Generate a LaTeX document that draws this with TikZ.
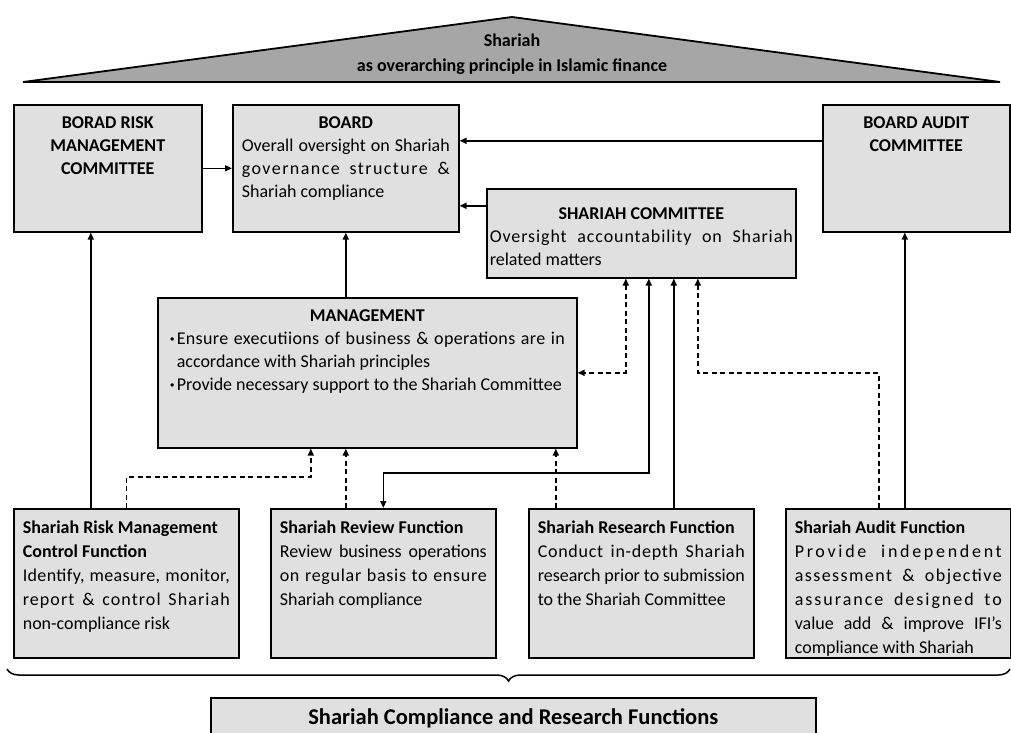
\documentclass[tikz,border=0pt]{standalone}
\usepackage{fontspec}
\setmainfont{Carlito}
\usetikzlibrary{arrows.meta,decorations.pathreplacing}
\definecolor{boxgray}{HTML}{E0E0E0}
\definecolor{roofgray}{HTML}{A6A6A6}
\newcommand{\unitbody}[3]{\parbox[c][#2][t]{#1}{\strut#3}}
\newcommand{\fl}[1]{\hbox to\linewidth{#1}}
\newcommand{\sfl}[2]{\hbox to\linewidth{\addfontfeature{LetterSpace=#1}#2}}
\newcommand{\bul}{\makebox[7pt][l]{\textbf{·}}}
\begin{document}
\begin{tikzpicture}[x=1pt, y=-1pt, >={Triangle[length=7pt, width=6pt]},
        unit/.style = {draw, line width=1.6pt, fill=boxgray, anchor=north west, inner xsep=9pt, inner ysep=8pt, font=\fontsize{18}{23}\selectfont},
        func/.style = {unit, font=\fontsize{18}{24}\selectfont},
        link/.style = {line width=1.5pt, ->},
        both/.style = {line width=1.5pt, <->},
        dlink/.style = {link, dash pattern=on 5pt off 3.5pt},
        dboth/.style = {both, dash pattern=on 5pt off 3.5pt}]
        \useasboundingbox (0,0) rectangle (1011,732);

        \coordinate (roof-l) at (23,82);
        \coordinate (roof-t) at (512,17);
        \coordinate (roof-r) at (1000,82);
        \draw[line width=1.8pt, fill=roofgray] (roof-l) -- (roof-t) -- (roof-r) -- cycle;
        \node[font=\fontsize{18}{25}\selectfont\bfseries, align=center] (roof) at (512,54) {Shariah\\as overarching principle in Islamic finance};

        \node[unit] (brmc) at (13,104) {\unitbody{170pt}{111pt}{{\centering\bfseries BORAD RISK\\MANAGEMENT\\COMMITTEE\par}}};
        \node[unit] (board) at (232,104) {\unitbody{208pt}{111pt}{{\centering\bfseries BOARD\par}\fl{Overall oversight on Shariah}\sfl{8}{governance structure \&}Shariah compliance}};
        \node[unit] (bac) at (822,104) {\unitbody{169pt}{111pt}{{\centering\bfseries BOARD AUDIT\\COMMITTEE\par}}};
        \node[unit, inner xsep=3pt, inner ysep=15pt] (sc) at (486,188) {\unitbody{303pt}{59pt}{{\centering\bfseries SHARIAH COMMITTEE\par}\sfl{5}{Oversight accountability on Shariah}related matters}};
        \node[unit, inner xsep=12pt] (mgmt) at (157,297) {\unitbody{395pt}{134pt}{{\centering\bfseries MANAGEMENT\par}\hbox to\linewidth{\bul\addfontfeature{LetterSpace=2}Ensure executiions of business \& operations are in}\hbox{\hspace*{7pt}accordance with Shariah principles}\hbox{\bul Provide necessary support to the Shariah Committee}}};

        \node[func] (risk) at (13,508) {\unitbody{207pt}{133pt}{\textbf{Shariah Risk Management}\\\textbf{Control Function}\par\sfl{2}{Identify, measure, monitor,}\sfl{6}{report \& control Shariah}non-compliance risk}};
        \node[func] (review) at (270,508) {\unitbody{207pt}{133pt}{\textbf{Shariah Review Function}\par\fl{Review business operations}\sfl{4}{on regular basis to ensure}Shariah compliance}};
        \node[func] (research) at (528,508) {\unitbody{207pt}{133pt}{\textbf{Shariah Research Function}\par\sfl{4}{Conduct in-depth Shariah}\fl{research prior to submission}to the Shariah Committee}};
        \node[func] (audit) at (785,508) {\unitbody{207pt}{133pt}{\textbf{Shariah Audit Function}\par\sfl{15}{Provide independent}\sfl{8}{assessment \& objective}\sfl{11}{assurance designed to}\fl{value add \& improve IFI’s}compliance with Shariah}};

        \coordinate (brace-l) at (7,669);
        \coordinate (brace-r) at (1010,669);
        \draw[line width=1.5pt, decorate, decoration={brace, mirror, amplitude=12pt}] (brace-l) -- (brace-r);
        \node[unit, font=\fontsize{22.5}{27}\selectfont] (scrf) at (210,697) {\unitbody{587pt}{50pt}{{\centering\bfseries Shariah Compliance and Research Functions\par}}};

        \coordinate (bac-out) at ([yshift=27.5pt]bac.west);
        \coordinate (sc-out) at ([yshift=27.5pt]sc.west);
        \coordinate (risk-a) at ([xshift=-35.5pt]risk.north);
        \coordinate (mgmt-a) at ([xshift=-56.5pt]mgmt.south);
        \coordinate (mgmt-b) at ([xshift=-21.5pt]mgmt.south);
        \coordinate (mgmt-c) at ([xshift=188.5pt]mgmt.south);
        \coordinate (sc-a) at ([xshift=-15.5pt]sc.south);
        \coordinate (sc-b) at ([xshift=7.5pt]sc.south);
        \coordinate (sc-c) at ([xshift=32.5pt]sc.south);
        \coordinate (sc-d) at ([xshift=56.5pt]sc.south);
        \coordinate (audit-a) at ([xshift=-19.5pt]audit.north);
        \coordinate (audit-b) at ([xshift=6.5pt]audit.north);

        \draw[link] (brmc) -- (board);
        \draw[link] (bac-out) -- (bac-out -| board.east);
        \draw[link] (sc-out) -- (sc-out -| board.east);
        \draw[link] (board.south |- mgmt.north) -- (board.south);
        \draw[link] (risk-a) -- (risk-a |- brmc.south);
        \draw[dlink] (risk.north) -- ++(0,-31) -| (mgmt-a);
        \draw[dlink] (mgmt-b |- review.north) -- (mgmt-b);
        \draw[dlink] (mgmt-c |- research.north) -- (mgmt-c);
        \draw[dboth] (sc-a) |- (mgmt.east);
        \draw[both] (review.north) -- ++(0,-35) -| (sc-b);
        \draw[link] (sc-c |- research.north) -- (sc-c);
        \draw[dlink] (audit-a) |- (sc-d |- mgmt.east) -- (sc-d);
        \draw[link] (audit-b) -- (audit-b |- bac.south);

    \end{tikzpicture}
\end{document}
